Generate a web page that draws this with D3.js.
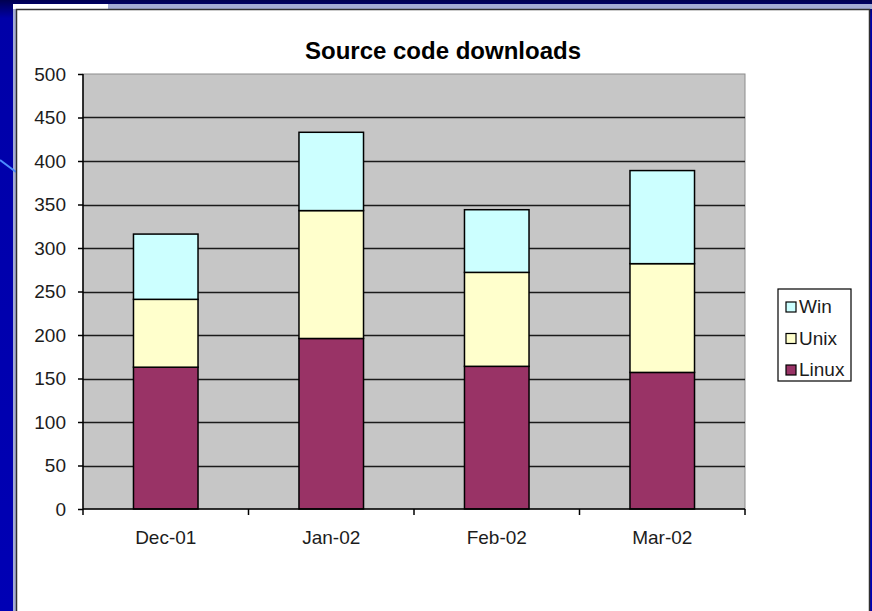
<!DOCTYPE html>
<html>
<head>
<meta charset="utf-8">
<script src="https://cdn.jsdelivr.net/npm/d3@7"></script>
<style>
  body { margin: 0; background: #0000b0; }
  svg { display: block; font-family: "Liberation Sans", Arial, sans-serif; }
</style>
</head>
<body>
<div id="chart"></div>
<script>
// chart data
const months = ['Dec-01', 'Jan-02', 'Feb-02', 'Mar-02'];
const seriesNames = ['Linux', 'Unix', 'Win'];
const linux = [163, 196, 164, 157];
const unix = [78, 147, 108, 125];
const win = [75, 90, 72, 107];
const yTicks = [0, 50, 100, 150, 200, 250, 300, 350, 400, 450, 500];
const legendOrder = ['Win', 'Unix', 'Linux'];

const colors = { Linux: '#993366', Unix: '#ffffcc', Win: '#ccffff' };

const W = 872, H = 611;
const margin = { top: 74, left: 83, right: W - 745, bottom: H - 509 };
const width = W - margin.left - margin.right;
const height = H - margin.top - margin.bottom;

const svg = d3.select('#chart').append('svg')
    .attr('width', W)
    .attr('height', H);

// slide background
const grad = svg.append('defs').append('linearGradient')
    .attr('id', 'bg').attr('x1', 0).attr('y1', 0).attr('x2', 0).attr('y2', 1);
grad.append('stop').attr('offset', '0%').attr('stop-color', '#000050');
grad.append('stop').attr('offset', '3%').attr('stop-color', '#0000a8');
grad.append('stop').attr('offset', '100%').attr('stop-color', '#0000b4');
svg.append('rect').attr('width', W).attr('height', H).attr('fill', 'url(#bg)');
svg.append('rect').attr('x', 108).attr('y', 4).attr('width', W - 108).attr('height', 5).attr('fill', '#a4acd4');
svg.append('rect').attr('x', 13).attr('y', 4).attr('width', 95).attr('height', 5).attr('fill', '#ffffff');
svg.append('rect').attr('x', 13).attr('y', 9).attr('width', 3).attr('height', H).attr('fill', '#a4acd4');
svg.append('line').attr('x1', 0).attr('y1', 160).attr('x2', 16).attr('y2', 172)
    .attr('stroke', '#4c8cff').attr('stroke-width', 2);

// chart panel
svg.append('rect')
    .attr('x', 16.5).attr('y', 9.5)
    .attr('width', 853).attr('height', H)
    .attr('fill', '#fff')
    .attr('stroke', '#303030').attr('stroke-width', 1.5);

const g = svg.append('g').attr('transform', `translate(${margin.left},${margin.top})`);

const x = d3.scaleBand()
    .domain(months)
    .range([0, width])
    .paddingInner(0.61)
    .paddingOuter(0.305);

const y = d3.scaleLinear()
    .domain([0, 500])
    .range([height, 0]);

// plot area
g.append('rect')
    .attr('width', width).attr('height', height)
    .attr('fill', '#c6c6c6')
    .attr('stroke', '#8c8c8c').attr('stroke-width', 1);

// gridlines
g.selectAll('.grid')
    .data(yTicks.filter(d => d > 0 && d < 500))
    .enter().append('line')
    .attr('x1', 0).attr('x2', width)
    .attr('y1', d => Math.round(y(d)) + 0.5).attr('y2', d => Math.round(y(d)) + 0.5)
    .attr('stroke', '#1a1a1a').attr('stroke-width', 1.6);

// stacked bars
const table = months.map((m, i) => ({ month: m, Linux: linux[i], Unix: unix[i], Win: win[i] }));
const stacked = d3.stack().keys(seriesNames)(table);

g.selectAll('.series')
    .data(stacked)
    .enter().append('g')
    .attr('fill', d => colors[d.key])
    .selectAll('rect')
    .data(d => d)
    .enter().append('rect')
    .attr('x', d => x(d.data.month))
    .attr('y', d => y(d[1]))
    .attr('width', x.bandwidth())
    .attr('height', d => y(d[0]) - y(d[1]))
    .attr('stroke', '#000')
    .attr('stroke-width', 1.5);

// y axis
const yAxis = g.append('g')
    .call(d3.axisLeft(y).tickValues(yTicks).tickSize(5).tickPadding(12));
yAxis.select('.domain').attr('stroke', '#000').attr('stroke-width', 1.5).attr('d', `M0,0V${height}`);
yAxis.selectAll('.tick line').attr('stroke', '#000').attr('stroke-width', 1.5);
yAxis.selectAll('text').attr('font-size', 19).attr('fill', '#1c1c1c')
    .attr('font-family', '"Liberation Sans", Arial, sans-serif');

// x axis, ticks at band edges
const xAxis = g.append('g').attr('transform', `translate(0,${height})`);
xAxis.append('line').attr('x1', 0).attr('x2', width).attr('stroke', '#000').attr('stroke-width', 1.5);
xAxis.selectAll('.xtick')
    .data(d3.range(months.length + 1))
    .enter().append('line')
    .attr('x1', i => i * x.step()).attr('x2', i => i * x.step())
    .attr('y1', 0).attr('y2', 6)
    .attr('stroke', '#000').attr('stroke-width', 1.5);
xAxis.selectAll('.xlabel')
    .data(months)
    .enter().append('text')
    .attr('x', d => x(d) + x.bandwidth() / 2)
    .attr('y', 35)
    .attr('text-anchor', 'middle')
    .attr('font-size', 19)
    .attr('fill', '#1c1c1c')
    .text(d => d);

// title
svg.append('text')
    .attr('x', 443).attr('y', 59)
    .attr('text-anchor', 'middle')
    .attr('font-size', 24)
    .attr('font-weight', 'bold')
    .attr('fill', '#000')
    .text('Source code downloads');

// legend
const legend = svg.append('g').attr('transform', 'translate(778,289)');
legend.append('rect')
    .attr('width', 73).attr('height', 92)
    .attr('fill', '#fff').attr('stroke', '#000').attr('stroke-width', 1.2);
const items = legend.selectAll('.item')
    .data(legendOrder)
    .enter().append('g')
    .attr('transform', (d, i) => `translate(8,${13 + i * 31.5})`);
items.append('rect')
    .attr('width', 10).attr('height', 10)
    .attr('fill', d => colors[d])
    .attr('stroke', '#000').attr('stroke-width', 1.2);
items.append('text')
    .attr('x', 13).attr('y', 11)
    .attr('font-size', 19)
    .attr('fill', '#1c1c1c')
    .text(d => d);
</script>
</body>
</html>
